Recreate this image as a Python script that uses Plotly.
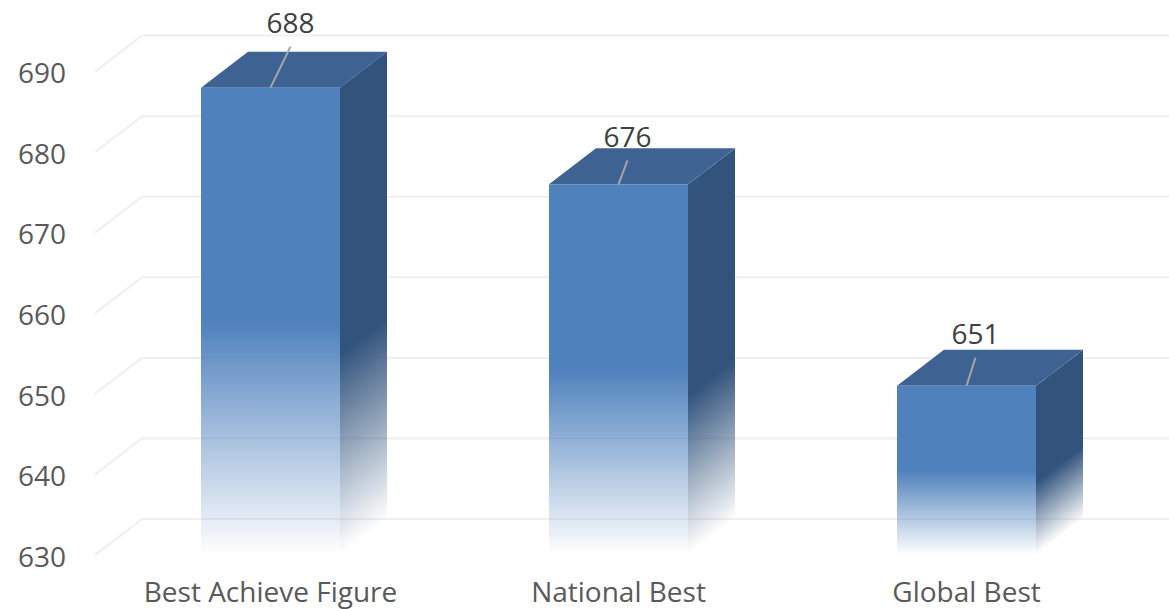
import plotly.graph_objects as go

# Chart content
CATEGORIES = ["Best Achieve Figure", "National Best", "Global Best"]
SCORES = [688, 676, 651]
Y_TICKS = [630, 640, 650, 660, 670, 680, 690]

# Canvas and axis calibration
WIDTH, HEIGHT = 1169, 609
MARGIN_L, MARGIN_B = 95, 54
PX_PER_CAT = 348.0
PX_PER_UNIT = 8.058
FIRST_CENTER_PX = 270.5
BASE = 630

X_MIN = (MARGIN_L - FIRST_CENTER_PX) / PX_PER_CAT
X_MAX = (WIDTH - FIRST_CENTER_PX) / PX_PER_CAT
Y_MAX = BASE + (HEIGHT - MARGIN_B) / PX_PER_UNIT

# Box geometry, in axis units
HALF_W = 69.5 / PX_PER_CAT
DEPTH_X = 47 / PX_PER_CAT
DEPTH_Y = 36 / PX_PER_UNIT
SIDE_STRIPS = 47
FRONT_FADE_STOP = 0.5
SIDE_FADE_STOP = 0.43

# Styling
FRONT_RGB = (79, 129, 189)
SIDE_RGB = (49, 83, 124)
TOP_RGB = (62, 99, 147)
GRID_COLOR = "#f0f0f0"
LEADER_COLOR = "#a6a6a6"
FONT_FAMILY = "Open Sans"
FONT_SIZE = 28

# Value label offsets from the front top-centre of each box, in pixels
LABEL_DX_PX = [20, 9, 9]
LABEL_DY_PX = [62, 44, 49]
LEADER_DY_PX = [41, 24, 28]


def fade_scale(rgb, stop):
    r, g, b = rgb
    return [
        [0, f"rgba({r},{g},{b},0)"],
        [stop, f"rgba({r},{g},{b},1)"],
        [1, f"rgba({r},{g},{b},1)"],
    ]


def polygon(xs, ys, color=None, gradient=None):
    style = {"fillgradient": gradient} if gradient else {"fillcolor": color}
    return go.Scatter(
        x=xs + xs[:1], y=ys + ys[:1], mode="lines", fill="toself",
        line=dict(width=0), hoverinfo="skip", showlegend=False, **style,
    )


fig = go.Figure()

# Back-wall gridlines with their diagonal run towards the value axis
for tick in Y_TICKS:
    fig.add_trace(go.Scatter(
        x=[X_MIN, X_MIN + DEPTH_X, X_MAX],
        y=[tick, tick + DEPTH_Y, tick + DEPTH_Y],
        mode="lines", line=dict(color=GRID_COLOR, width=2.2),
        hoverinfo="skip", showlegend=False,
    ))

for i, score in enumerate(SCORES):
    left, right = i - HALF_W, i + HALF_W

    # Right side face, cut into strips so the fade follows the skew of the face
    for s in range(SIDE_STRIPS):
        t0, t1 = s / SIDE_STRIPS, (s + 1) / SIDE_STRIPS
        x0, x1 = right + t0 * DEPTH_X, right + t1 * DEPTH_X
        lift = (t0 + t1) / 2 * DEPTH_Y
        fig.add_trace(polygon(
            [x0, x1, x1, x0],
            [BASE + t0 * DEPTH_Y, BASE + t1 * DEPTH_Y,
             score + t1 * DEPTH_Y, score + t0 * DEPTH_Y],
            gradient=dict(type="vertical",
                          colorscale=fade_scale(SIDE_RGB, SIDE_FADE_STOP),
                          start=BASE + lift, stop=score + lift),
        ))

    # Top face
    fig.add_trace(polygon(
        [left, right, right + DEPTH_X, left + DEPTH_X],
        [score, score, score + DEPTH_Y, score + DEPTH_Y],
        color=f"rgb{TOP_RGB}",
    ))

    # Front face
    fig.add_trace(polygon(
        [left, right, right, left],
        [BASE, BASE, score, score],
        gradient=dict(type="vertical",
                      colorscale=fade_scale(FRONT_RGB, FRONT_FADE_STOP),
                      start=BASE, stop=score),
    ))

    # Leader from the value label down to the box
    fig.add_trace(go.Scatter(
        x=[i, i + LABEL_DX_PX[i] / PX_PER_CAT],
        y=[score, score + LEADER_DY_PX[i] / PX_PER_UNIT],
        mode="lines", line=dict(color=LEADER_COLOR, width=2),
        hoverinfo="skip", showlegend=False,
    ))

# Value labels
fig.add_trace(go.Scatter(
    x=[i + LABEL_DX_PX[i] / PX_PER_CAT for i in range(len(SCORES))],
    y=[v + LABEL_DY_PX[i] / PX_PER_UNIT for i, v in enumerate(SCORES)],
    mode="text", text=[str(v) for v in SCORES], textposition="middle center",
    textfont=dict(family=FONT_FAMILY, size=FONT_SIZE, color="#404040"),
    hoverinfo="skip", showlegend=False,
))

fig.update_layout(
    width=WIDTH, height=HEIGHT,
    margin=dict(l=MARGIN_L, r=0, t=0, b=MARGIN_B, autoexpand=False),
    paper_bgcolor="white", plot_bgcolor="white", showlegend=False,
    font=dict(family=FONT_FAMILY, size=FONT_SIZE, color="#595959"),
    xaxis=dict(
        range=[X_MIN, X_MAX], tickmode="array", tickvals=list(range(len(CATEGORIES))),
        ticktext=CATEGORIES, showgrid=False, zeroline=False, showline=False,
        ticks="", ticklabelstandoff=18,
    ),
    yaxis=dict(
        range=[BASE, Y_MAX], tickmode="array", tickvals=Y_TICKS,
        showgrid=False, zeroline=False, showline=False, ticks="",
        ticklabelstandoff=28, ticklabelshift=2,
    ),
)

fig.write_html("out.html", config={"displayModeBar": False})
